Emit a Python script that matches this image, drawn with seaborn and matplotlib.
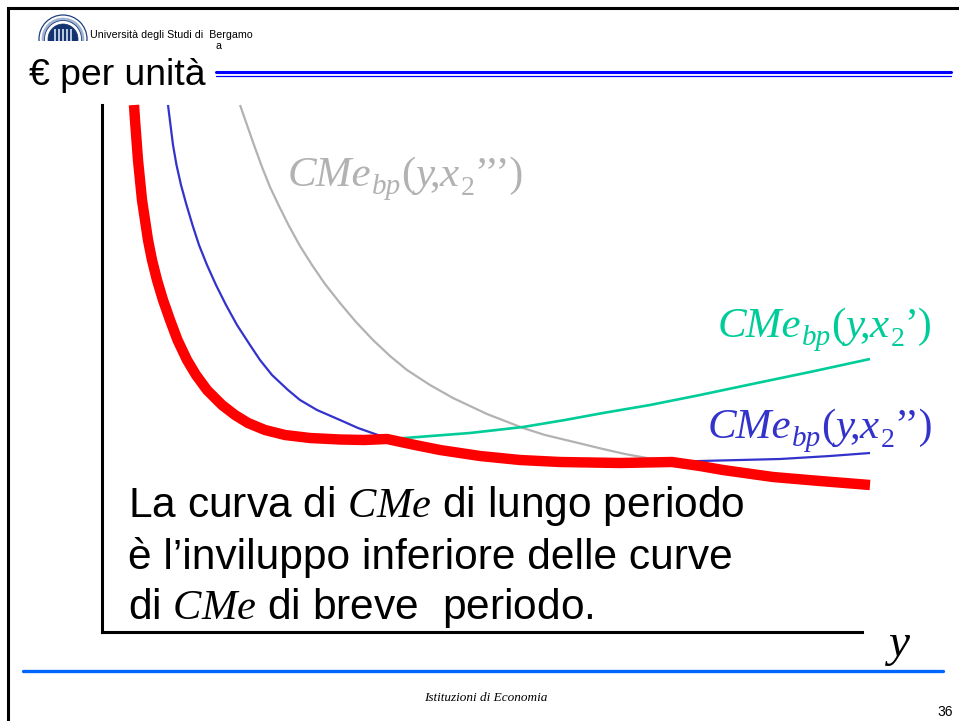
import matplotlib.pyplot as plt
import matplotlib.patches as mpatches
import pandas as pd
import seaborn as sns

sns.set_theme(style="white")
plt.rcParams["font.family"] = ["Liberation Sans", "DejaVu Sans"]
plt.rcParams["mathtext.fontset"] = "custom"
plt.rcParams["mathtext.rm"] = "Liberation Serif"
plt.rcParams["mathtext.it"] = "Liberation Serif:italic"

# curve
lungo_x = [32, 33, 34.5, 36, 38, 40, 43, 46, 50, 55, 61, 68, 75.5, 85, 94, 105, 120, 133, 146,
           163, 183, 208, 238, 262, 285, 313, 338, 378, 418, 458, 518, 570, 598, 621, 671, 718, 768]
lungo_y = [527, 512, 492, 472, 452, 432, 412, 392, 372, 352, 332, 312, 292, 272, 257, 242, 227, 217, 209,
           202, 197, 194, 192.5, 192, 193, 187, 182, 176, 172, 170, 169, 170, 166, 162, 155, 151, 147]
blu_sx_x = [66, 68.5, 71, 74.5, 79, 84.5, 90.5, 97, 105, 114, 124, 135, 148, 158, 170, 186, 198, 215,
            238, 256, 273, 285]
blu_sx_y = [527, 507, 487, 467, 447, 427, 407, 387, 367, 347, 327, 307, 287, 272, 257, 242, 232, 222,
            212, 204, 198, 194]
verde_x = [285, 303, 368, 421, 463, 501, 548, 598, 655, 708, 768]
verde_y = [193, 194, 199, 205, 212, 219, 227, 237, 249, 260, 273]
grigio_x = [138, 145, 152, 160, 168, 177, 187, 198, 210, 223, 238, 254, 271, 288, 305, 328, 351, 385,
            421, 443, 468, 501, 523, 545, 570]
grigio_y = [527, 507, 487, 465, 445, 426, 406, 386, 367, 348, 329, 310, 292, 276, 262, 247, 234, 218,
            204, 197, 191, 183, 178, 174, 170]
blu_dx_x = [570, 598, 638, 678, 728, 768]
blu_dx_y = [170, 171, 172, 173, 176, 179]

W, H = 959, 721
fig = plt.figure(figsize=(W / 100, H / 100), dpi=100)

# assi del grafico: origine a (102, 632) px
ax = fig.add_axes([102 / W, 1 - 632 / H, 768 / W, 527 / H])
for xs, ys, col, lw in [
    (grigio_x, grigio_y, "#b2b2b2", 1.6),
    (blu_sx_x, blu_sx_y, "#3333cc", 1.6),
    (blu_dx_x, blu_dx_y, "#3333cc", 1.6),
    (verde_x, verde_y, "#00cc99", 1.9),
    (lungo_x, lungo_y, "#ff0000", 7.5),
]:
    curva = pd.DataFrame({"y": xs, "cme": ys})
    sns.lineplot(data=curva, x="y", y="cme", color=col, linewidth=lw, sort=False,
                 estimator=None, ax=ax, solid_capstyle="butt", clip_on=False)
ax.set_xlim(0, 768)
ax.set_ylim(0, 527)
ax.set_xticks([])
ax.set_yticks([])
ax.set_xlabel("")
ax.set_ylabel("")
ax.patch.set_alpha(0)
sns.despine(ax=ax)
ax.spines["left"].set_linewidth(2.2)
ax.spines["bottom"].set_linewidth(2.2)
ax.spines["left"].set_color("black")
ax.spines["bottom"].set_color("black")
ax.spines["bottom"].set_bounds(0, 760)

# cornice e testi della diapositiva, in pixel
deco = fig.add_axes([0, 0, 1, 1], zorder=-1)
deco.set_xlim(0, W)
deco.set_ylim(H, 0)
deco.axis("off")
deco.plot([8, 8, W], [H, 8, 8], color="black", lw=2.2, solid_joinstyle="miter")
deco.plot([216, 951], [71.5, 71.5], color="#0000ff", lw=2.2)
deco.plot([216, 951], [75.5, 75.5], color="#0000ff", lw=0.9)
deco.plot([23, 943], [671, 671], color="#0066ff", lw=2.4)

# stemma
taglio = mpatches.Rectangle((30, 10), 70, 31, transform=deco.transData)
for r, fc, ec, lw in [(24, "white", "#1f3f80", 0.9), (21, "#9fb2d0", "#9fb2d0", 0.5),
                      (18.5, "white", "#1f3f80", 0.6), (15, "#15346f", "#15346f", 0.5)]:
    p = mpatches.Circle((63, 39), r, fc=fc, ec=ec, lw=lw)
    deco.add_patch(p)
    p.set_clip_path(taglio)
for cx in [55, 59, 63, 67, 71]:
    deco.add_patch(mpatches.Rectangle((cx - 1, 29), 2, 12, fc="#b9c6dd", ec="none"))

deco.text(90, 38, "Università degli Studi di  Bergamo", fontsize=7.7, color="black", va="baseline")
deco.text(216, 49, "a", fontsize=7.7, color="black", va="baseline")
deco.text(29, 85, "€ per unità", fontsize=26.9, color="black", va="baseline")


def etichetta(x0, base, apici, col):
    # pezzi: testo, stile, corpo, discesa in px, spazio in px dopo il pezzo
    pezzi = [("CMe", "italic", 31, 0, 0), ("bp", "italic", 21, 8, 0),
             (r"($\mathit{y}\!$,$\mathit{x}$", "normal", 31, 0, 0),
             ("2", "normal", 20, 9, 0), (apici + ")", "normal", 30, 0, 0)]
    rend = fig.canvas.get_renderer()
    x = x0
    for testo, stile, corpo, giu, spazio in pezzi:
        t = deco.text(x, base + giu, testo, family="Liberation Serif", style=stile, fontsize=corpo,
                      color=col, va="baseline")
        x += t.get_window_extent(rend).width + spazio


etichetta(288, 186, "’’’", "#b2b2b2")
etichetta(718, 337, "’", "#00cc99")
etichetta(708, 438, "’’", "#3333cc")

deco.text(128, 517, r"La curva di $\mathit{CMe}$ di lungo periodo", fontsize=30.6, color="black", va="baseline")
deco.text(128, 569, "è l’inviluppo inferiore delle curve", fontsize=30.6, color="black", va="baseline")
deco.text(128, 619, r"di $\mathit{CMe}$ di breve  periodo.", fontsize=30.6, color="black", va="baseline")

deco.text(889, 656, "y", family="Liberation Serif", style="italic", fontsize=34, color="black", va="baseline")
deco.text(486, 701, "Istituzioni di Economia", family="Liberation Serif", style="italic",
          fontsize=9.5, color="black", ha="center", va="baseline")
deco.text(937, 716, "36", fontsize=10, color="black", va="baseline")

fig.savefig("out.png", dpi=100)
